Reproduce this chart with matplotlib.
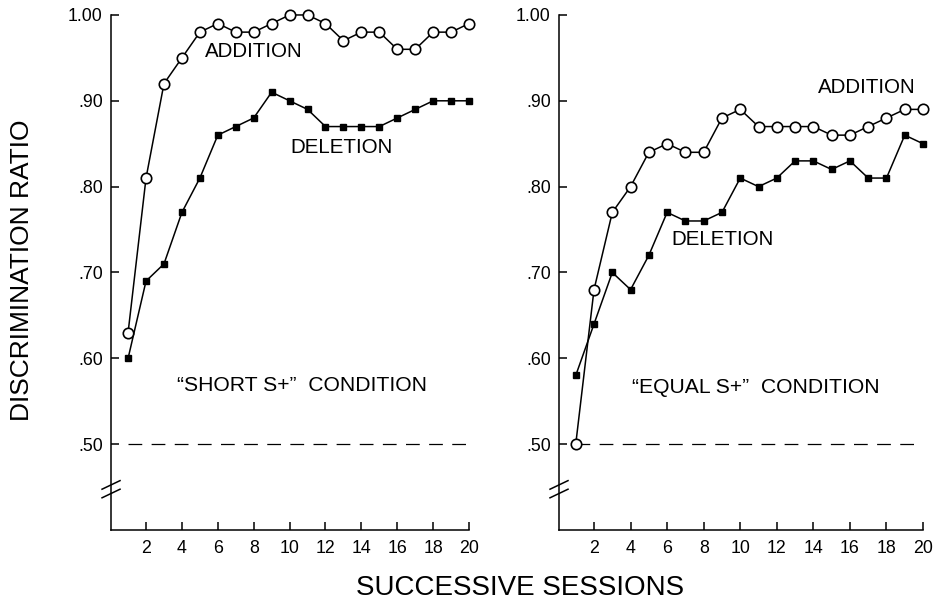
import matplotlib
matplotlib.use('Agg')
import matplotlib.pyplot as plt
from matplotlib.transforms import blended_transform_factory

plt.rcParams['font.family'] = ['Liberation Sans', 'DejaVu Sans']

sessions = list(range(1, 21))

short_addition = [.63, .81, .92, .95, .98, .99, .98, .98, .99, 1.00,
                  1.00, .99, .97, .98, .98, .96, .96, .98, .98, .99]
short_deletion = [.60, .69, .71, .77, .81, .86, .87, .88, .91, .90,
                  .89, .87, .87, .87, .87, .88, .89, .90, .90, .90]
equal_addition = [.50, .68, .77, .80, .84, .85, .84, .84, .88, .89,
                  .87, .87, .87, .87, .86, .86, .87, .88, .89, .89]
equal_deletion = [.58, .64, .70, .68, .72, .77, .76, .76, .77, .81,
                  .80, .81, .83, .83, .82, .83, .81, .81, .86, .85]

y_ticks = [.50, .60, .70, .80, .90, 1.00]
y_ticklabels = ['.50', '.60', '.70', '.80', '.90', '1.00']
x_ticks = list(range(2, 21, 2))

chance = 0.50

fig = plt.figure(figsize=(9.37, 6.11), dpi=100)
ax1 = fig.add_axes([0.1185, 0.1326, 0.3821, 0.8429])
ax2 = fig.add_axes([0.5966, 0.1326, 0.3885, 0.8429])


def draw_panel(ax, addition, deletion, xmin, cond, add_xy, del_xy, cond_xy):
    ax.plot(sessions, addition, '-', color='black', lw=1.1, marker='o',
            ms=7.5, mfc='white', mec='black', mew=1.2, clip_on=False, zorder=4)
    ax.plot(sessions, deletion, '-', color='black', lw=1.1, marker='s',
            ms=5, mfc='black', mec='black', clip_on=False, zorder=3)
    ax.plot([sessions[0], sessions[-1]], [chance, chance], color='black',
            lw=0.9, dashes=(11, 7.5), zorder=1)
    ax.set_xlim(xmin, 20)
    ax.set_ylim(0.40, 1.00)
    ax.set_yticks(y_ticks)
    ax.set_yticklabels(y_ticklabels)
    ax.set_xticks(x_ticks)
    for s in ['top', 'right']:
        ax.spines[s].set_visible(False)
    for s in ['left', 'bottom']:
        ax.spines[s].set_linewidth(1.1)
    ax.tick_params(axis='both', direction='in', length=6, width=1.1,
                   labelsize=12.8, color='black')
    ax.tick_params(axis='y', pad=6)
    ax.tick_params(axis='x', pad=7)
    ax.text(add_xy[0], add_xy[1], 'ADDITION', fontsize=14.8, ha='left', va='center')
    ax.text(del_xy[0], del_xy[1], 'DELETION', fontsize=14.8, ha='left', va='center')
    ax.text(cond_xy[0], cond_xy[1], cond, fontsize=15.2, ha='left', va='center')

    # axis break marks
    w = ax.get_position().width * fig.get_figwidth() * fig.dpi
    dx = 9.0 / w
    tr = blended_transform_factory(ax.transAxes, ax.transData)
    for yc in (0.4525, 0.4425):
        ax.plot([-dx, dx], [yc - 0.005, yc + 0.005], color='black',
                lw=1.1, transform=tr, clip_on=False)


draw_panel(ax1, short_addition, short_deletion, 0.05,
           '\u201cSHORT S+\u201d  CONDITION', (5.3, 0.957), (10.05, 0.846), (3.75, 0.568))
draw_panel(ax2, equal_addition, equal_deletion, 0.085,
           '\u201cEQUAL S+\u201d  CONDITION', (14.25, 0.916), (6.25, 0.738), (4.1, 0.566))

fig.text(0.024, 0.558, 'DISCRIMINATION RATIO', rotation=90, fontsize=19,
         ha='center', va='center')
fig.text(0.555, 0.038, 'SUCCESSIVE SESSIONS', fontsize=20,
         ha='center', va='center')

fig.savefig('out.png', dpi=100, facecolor='white')
